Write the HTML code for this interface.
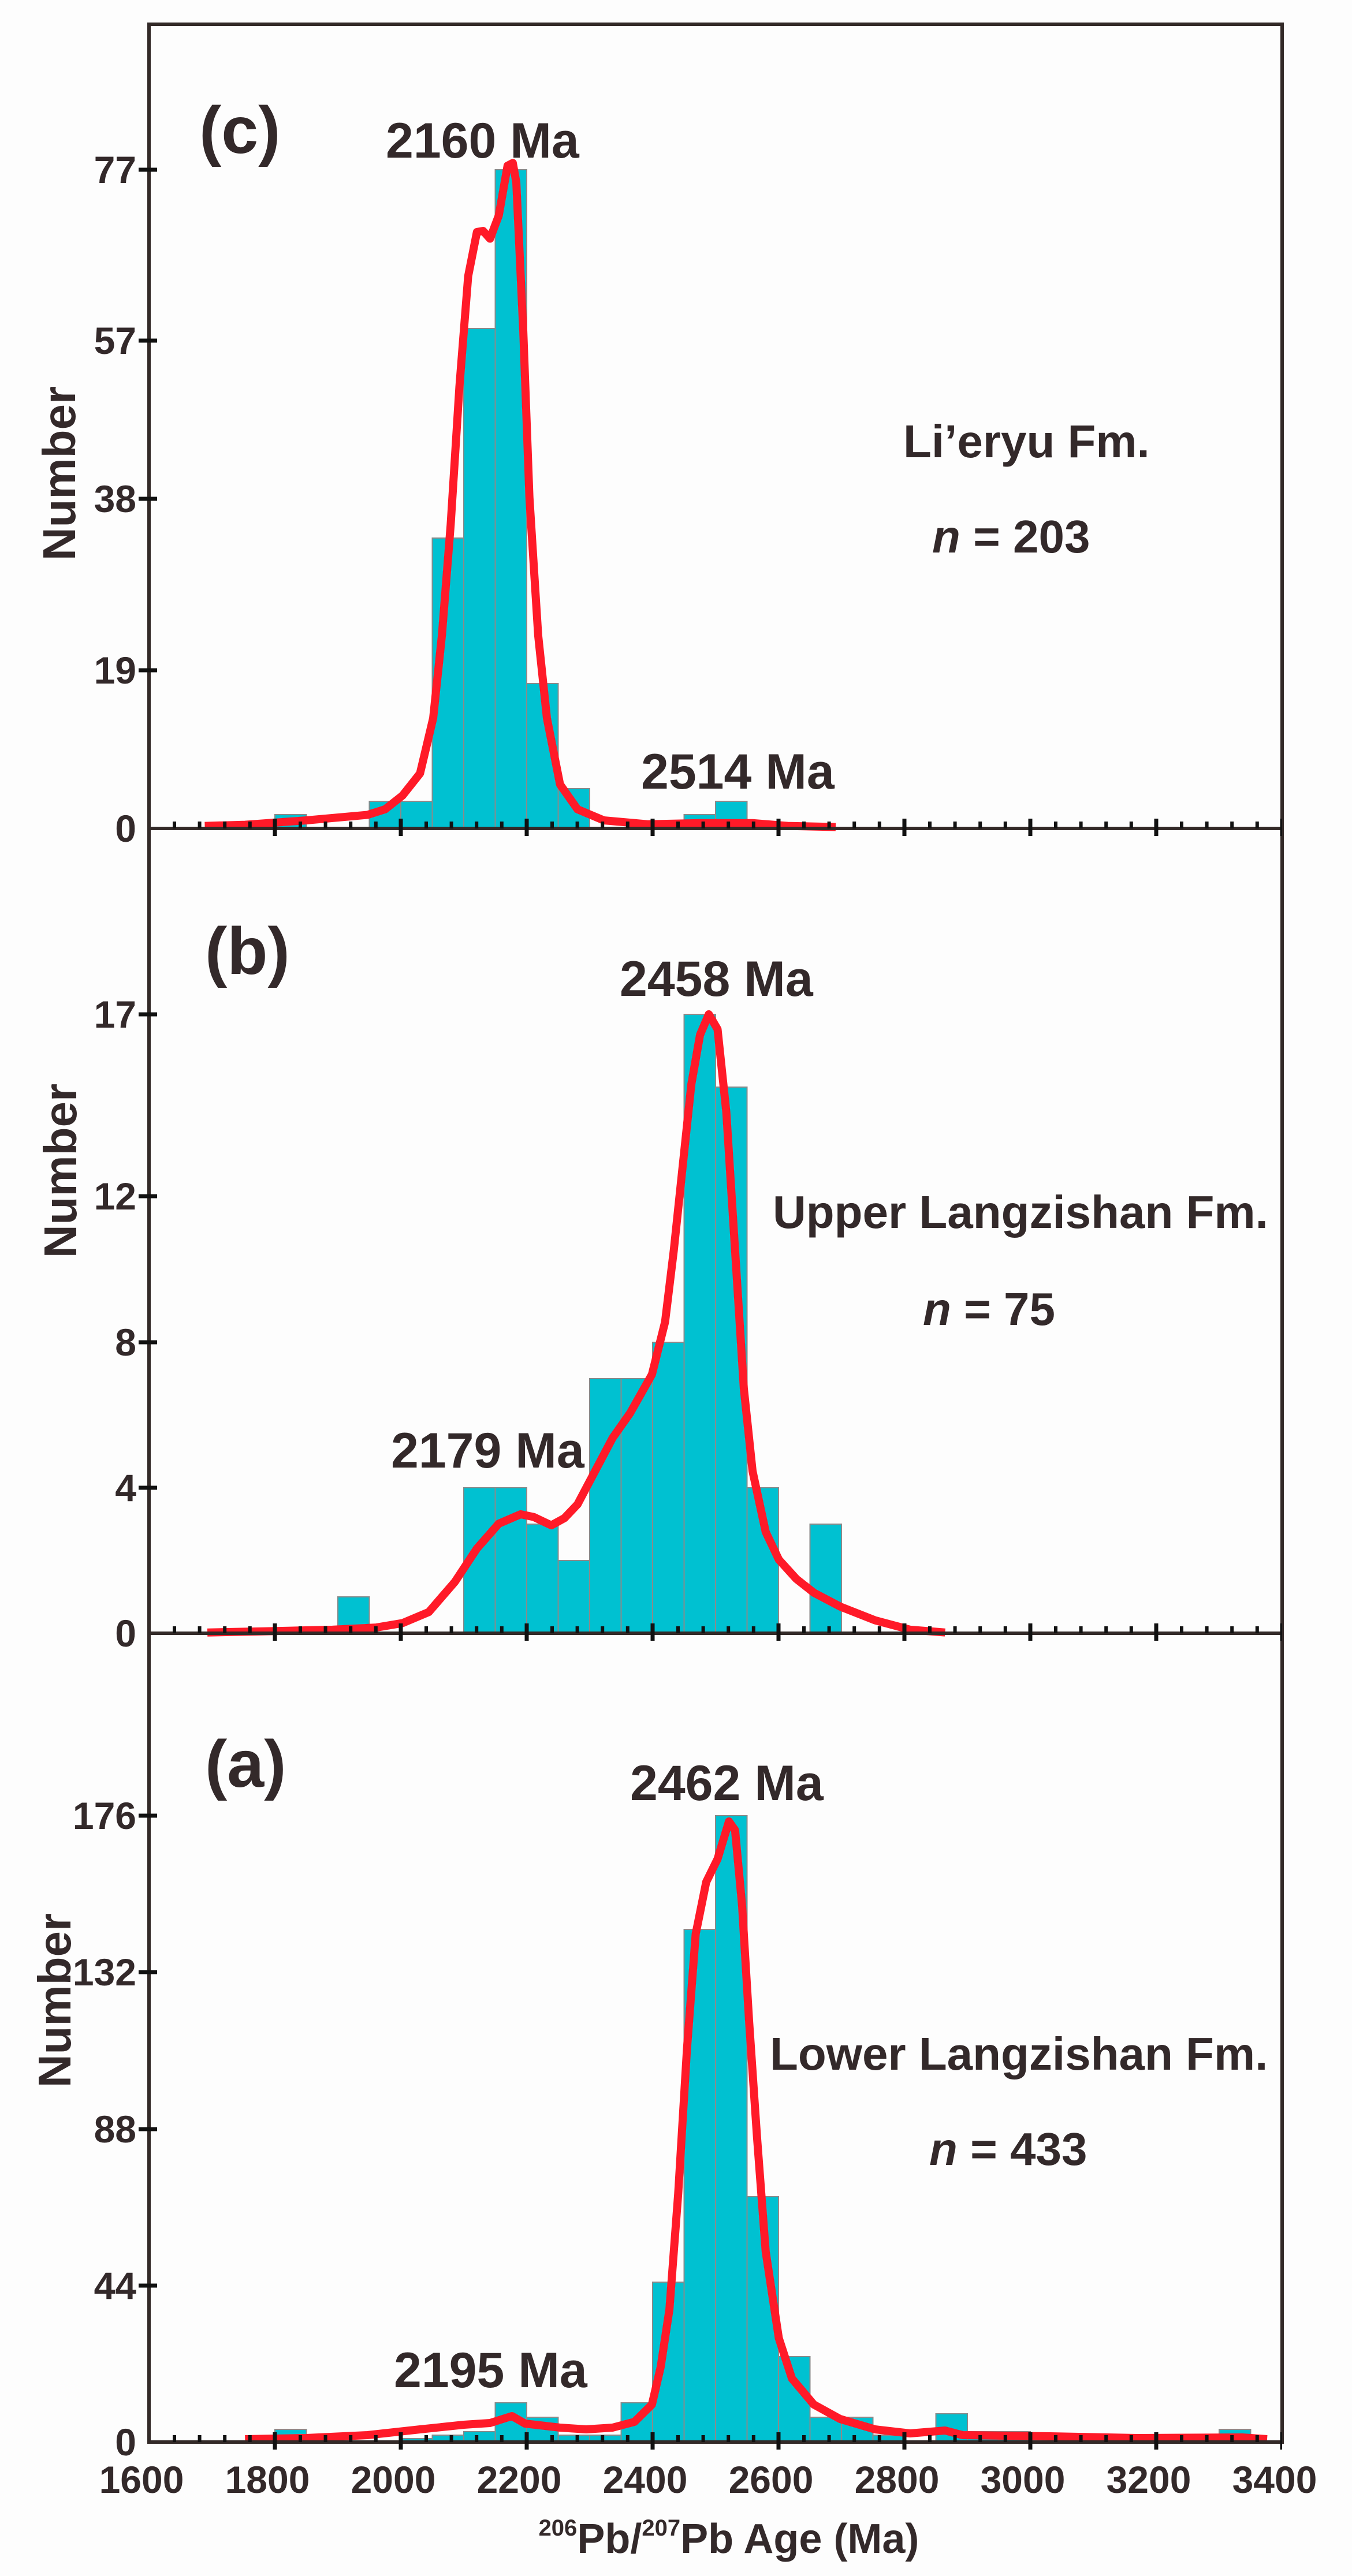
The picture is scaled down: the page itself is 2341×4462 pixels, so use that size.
<!DOCTYPE html>
<html><head><meta charset="utf-8"><style>
html,body{margin:0;padding:0;background:#fdfdfd;}
svg{display:block}
text{font-family:"Liberation Sans",Arial,sans-serif;font-weight:bold;fill:#33292a}
</style></head><body>
<svg width="2341" height="4462" viewBox="0 0 2341 4462" xmlns="http://www.w3.org/2000/svg">
<rect width="2341" height="4462" fill="#fdfdfd"/>
<g fill="#00c1d1" stroke="#8a8a8a" stroke-width="2">
<rect x="476" y="1411" width="54.5" height="24"/>
<rect x="639.5" y="1388" width="54.5" height="47"/>
<rect x="694" y="1388" width="54.5" height="47"/>
<rect x="748.5" y="932" width="54.5" height="503"/>
<rect x="803" y="569" width="54.5" height="866"/>
<rect x="857.5" y="294" width="54.5" height="1141"/>
<rect x="912" y="1184" width="54.5" height="251"/>
<rect x="966.5" y="1366" width="54.5" height="69"/>
<rect x="1184.5" y="1411" width="54.5" height="24"/>
<rect x="1239" y="1388" width="54.5" height="47"/>
<rect x="585" y="2766" width="54.5" height="63"/>
<rect x="803" y="2577" width="54.5" height="252"/>
<rect x="857.5" y="2577" width="54.5" height="252"/>
<rect x="912" y="2640" width="54.5" height="189"/>
<rect x="966.5" y="2703" width="54.5" height="126"/>
<rect x="1021" y="2388" width="54.5" height="441"/>
<rect x="1075.5" y="2388" width="54.5" height="441"/>
<rect x="1130" y="2325" width="54.5" height="504"/>
<rect x="1184.5" y="1757" width="54.5" height="1072"/>
<rect x="1239" y="1883" width="54.5" height="946"/>
<rect x="1293.5" y="2577" width="54.5" height="252"/>
<rect x="1402.5" y="2640" width="54.5" height="189"/>
<rect x="476" y="4208" width="54.5" height="22"/>
<rect x="694" y="4224" width="54.5" height="6"/>
<rect x="748.5" y="4218" width="54.5" height="12"/>
<rect x="803" y="4212" width="54.5" height="18"/>
<rect x="857.5" y="4162" width="54.5" height="68"/>
<rect x="912" y="4187" width="54.5" height="43"/>
<rect x="966.5" y="4218" width="54.5" height="12"/>
<rect x="1021" y="4218" width="54.5" height="12"/>
<rect x="1075.5" y="4162" width="54.5" height="68"/>
<rect x="1130" y="3953" width="54.5" height="277"/>
<rect x="1184.5" y="3342" width="54.5" height="888"/>
<rect x="1239" y="3145" width="54.5" height="1085"/>
<rect x="1293.5" y="3805" width="54.5" height="425"/>
<rect x="1348" y="4082" width="54.5" height="148"/>
<rect x="1402.5" y="4187" width="54.5" height="43"/>
<rect x="1457" y="4187" width="54.5" height="43"/>
<rect x="1511.5" y="4218" width="54.5" height="12"/>
<rect x="1620.5" y="4181" width="54.5" height="49"/>
<rect x="1675" y="4212" width="54.5" height="18"/>
<rect x="1729.5" y="4212" width="54.5" height="18"/>
<rect x="2111" y="4208" width="54.5" height="22"/>
</g>
<g fill="none" stroke="#ff1a28" stroke-width="14" stroke-linejoin="round" stroke-linecap="butt">
<polyline vector-effect="non-scaling-stroke" transform="scale(1.5152,0.9569)" points="234,1495 280,1493 350,1485 420,1475 440,1465 460,1440 480,1400 495,1300 505,1150 515,950 525,700 535,500 545,420 552,418 560,432 570,390 580,300 586,295 590,330 598,600 605,900 615,1150 625,1300 640,1420 660,1465 690,1485 740,1492 800,1490 860,1490 900,1495 955,1497"/>
<polyline vector-effect="non-scaling-stroke" transform="translate(0,1400) scale(1.5152,0.9569)" points="237,1492 300,1490 380,1487 430,1483 460,1475 490,1455 520,1400 545,1340 570,1295 595,1278 610,1283 630,1298 645,1285 660,1260 680,1200 700,1140 720,1095 745,1025 760,930 770,800 780,650 790,500 800,410 810,373 820,400 830,550 840,800 850,1050 860,1200 875,1310 890,1360 910,1395 930,1420 960,1445 1000,1470 1040,1487 1080,1492"/>
<polyline vector-effect="non-scaling-stroke" transform="translate(0,2900) scale(1.5152,1)" points="280,1325 350,1323 420,1318 480,1308 530,1300 560,1297 585,1285 600,1298 640,1305 670,1308 700,1305 725,1295 745,1265 755,1200 765,1100 775,900 785,650 795,450 807,360 820,320 833,255 840,270 848,400 856,600 865,800 875,1000 890,1150 905,1220 930,1265 960,1290 1000,1308 1040,1315 1080,1310 1100,1318 1200,1320 1300,1323 1420,1322 1448,1325"/>
</g>
<g stroke="#332a28" stroke-width="6" fill="none">
<rect x="258" y="42" width="1962" height="4188"/>
<line x1="258" y1="1435" x2="2220" y2="1435"/>
<line x1="258" y1="2829" x2="2220" y2="2829"/>
</g>
<g stroke="#111" fill="none">
<g stroke-width="12" stroke-dasharray="6 37.6">
<line x1="299" y1="1429" x2="2220" y2="1429"/>
<line x1="299" y1="2823" x2="2220" y2="2823"/>
<line x1="299" y1="4224" x2="2220" y2="4224"/>
</g>
<g stroke-width="30" stroke-dasharray="7 211">
<line x1="472.5" y1="1433" x2="2220" y2="1433"/>
<line x1="472.5" y1="2827" x2="2220" y2="2827"/>
<line x1="472.5" y1="4228" x2="2220" y2="4228"/>
</g>
</g>
<g stroke="#111" stroke-width="7">
<line x1="240" y1="294" x2="272" y2="294"/><line x1="240" y1="590" x2="272" y2="590"/><line x1="240" y1="864" x2="272" y2="864"/><line x1="240" y1="1161" x2="272" y2="1161"/>
<line x1="240" y1="1757" x2="272" y2="1757"/><line x1="240" y1="2072" x2="272" y2="2072"/><line x1="240" y1="2325" x2="272" y2="2325"/><line x1="240" y1="2577" x2="272" y2="2577"/>
<line x1="240" y1="3145" x2="272" y2="3145"/><line x1="240" y1="3416" x2="272" y2="3416"/><line x1="240" y1="3688" x2="272" y2="3688"/><line x1="240" y1="3959" x2="272" y2="3959"/>
</g>
<g font-size="66" text-anchor="end">
<text x="236" y="317">77</text><text x="236" y="613">57</text><text x="236" y="887">38</text><text x="236" y="1184">19</text><text x="236" y="1458">0</text>
<text x="236" y="1780">17</text><text x="236" y="2095">12</text><text x="236" y="2348">8</text><text x="236" y="2600">4</text><text x="236" y="2852">0</text>
<text x="236" y="3168">176</text><text x="236" y="3439">132</text><text x="236" y="3711">88</text><text x="236" y="3982">44</text><text x="236" y="4253">0</text>
</g>
<g font-size="66" text-anchor="middle">
<text x="245" y="4318">1600</text><text x="463" y="4318">1800</text><text x="681" y="4318">2000</text><text x="899" y="4318">2200</text><text x="1117" y="4318">2400</text><text x="1335" y="4318">2600</text><text x="1553" y="4318">2800</text><text x="1771" y="4318">3000</text><text x="1989" y="4318">3200</text><text x="2207" y="4318">3400</text>
</g>
<text x="1262" y="4422" font-size="72" text-anchor="middle"><tspan font-size="40" dy="-30">206</tspan><tspan dy="30">Pb/</tspan><tspan font-size="40" dy="-30">207</tspan><tspan dy="30">Pb Age (Ma)</tspan></text>
<g font-size="80">
<text transform="translate(130,820) rotate(-90)" text-anchor="middle">Number</text>
<text transform="translate(132,2028) rotate(-90)" text-anchor="middle">Number</text>
<text transform="translate(122,3465) rotate(-90)" text-anchor="middle">Number</text>
</g>
<g font-size="115">
<text x="345" y="265">(c)</text>
<text x="355" y="1687">(b)</text>
<text x="355" y="3095">(a)</text>
</g>
<g font-size="86">
<text x="668" y="273">2160 Ma</text>
<text x="1110" y="1366">2514 Ma</text>
<text x="1073" y="1725">2458 Ma</text>
<text x="677" y="2542">2179 Ma</text>
<text x="1091" y="3118">2462 Ma</text>
<text x="682" y="4135">2195 Ma</text>
</g>
<g font-size="80">
<text x="1564" y="792">Li’eryu Fm.</text>
<text x="1614" y="957"><tspan font-style="italic">n</tspan> = 203</text>
<text x="1338" y="2127">Upper Langzishan Fm.</text>
<text x="1598" y="2295"><tspan font-style="italic">n</tspan> = 75</text>
<text x="1333" y="3585">Lower Langzishan Fm.</text>
<text x="1609" y="3750"><tspan font-style="italic">n</tspan> = 433</text>
</g>
</svg>
</body></html>
